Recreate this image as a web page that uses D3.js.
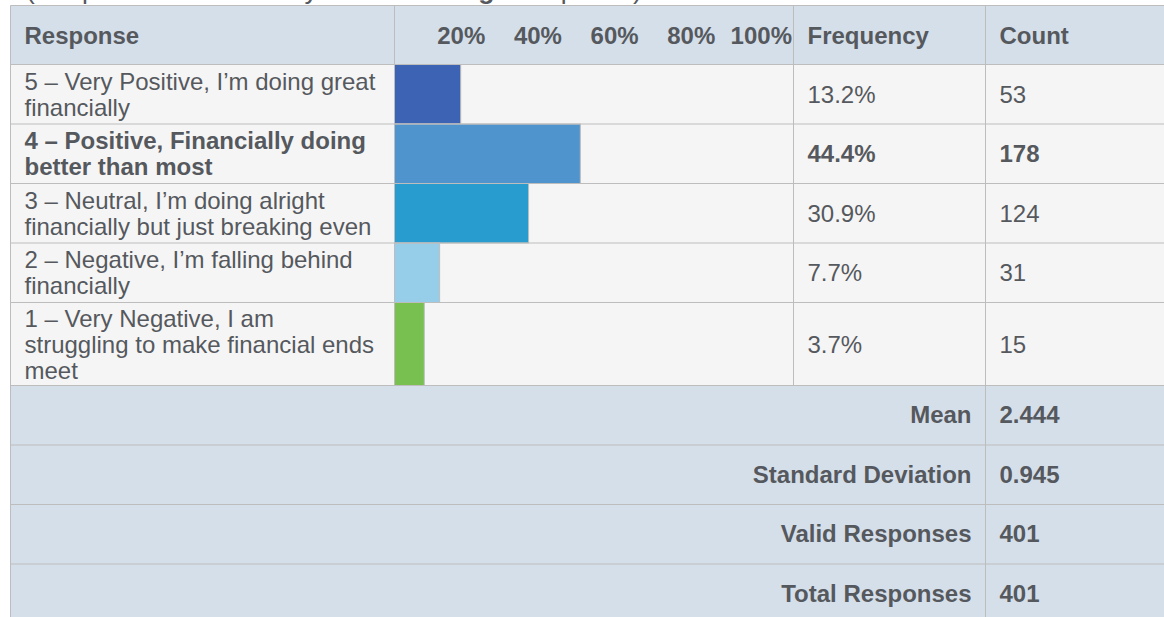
<!DOCTYPE html>
<html>
<head>
<meta charset="utf-8">
<script src="https://cdn.jsdelivr.net/npm/d3@7/dist/d3.min.js"></script>
<style>
  html, body { margin: 0; padding: 0; background: #ffffff; }
  svg { display: block; }
  text { font-family: "Liberation Sans", Arial, Helvetica, sans-serif; }
</style>
</head>
<body>
<svg id="chart" width="1164" height="617"></svg>
<script>
// Survey responses, one entry of wrapped label lines per answer
const responses = [
  ["5 – Very Positive, I’m doing great", "financially"],
  ["4 – Positive, Financially doing", "better than most"],
  ["3 – Neutral, I’m doing alright", "financially but just breaking even"],
  ["2 – Negative, I’m falling behind", "financially"],
  ["1 – Very Negative, I am", "struggling to make financial ends", "meet"]
];
const frequencies = [13.2, 44.4, 30.9, 7.7, 3.7];   // percent of valid responses
const counts = [53, 178, 124, 31, 15];
const modalRow = 1;                                    // most frequent answer, set in bold
const tickValues = [20, 40, 60, 80, 100];
const headers = ["Response", "Frequency", "Count"];
const summaryLabels = ["Mean", "Standard Deviation", "Valid Responses", "Total Responses"];
const summaryValues = ["2.444", "0.945", "401", "401"];
const captionParts = [
  { text: "(Respondents could only choose a ", bold: false },
  { text: "single", bold: true },
  { text: " response)", bold: false }
];

// Styling
const barColors = ["#3d63b4", "#5094ce", "#289cce", "#96cee9", "#78c050"];
const ink = "#55595e";
const headFill = "#d5dfea";
const rowFill = "#f5f5f5";
const rule = "#bdbdbd";
const fontSize = 24;
const lineGap = 26;

const W = 1164, H = 617;
const cols = [10.5, 394.5, 793.5, 985.5, W + 10];   // column edges
const pad = 14;
const tableTop = 5.5, headH = 59;
const rowH = lines => (lines.length > 2 ? 83 : 59.5);
const sumH = 59.5;

const svg = d3.select("#chart");

// Row geometry
let yCursor = tableTop + headH;
const rows = responses.map((lines, i) => {
  const r = { i, lines, y0: yCursor, h: rowH(lines) };
  yCursor += r.h;
  return r;
});
const dataBottom = yCursor;
const sums = summaryLabels.map((label, i) => {
  const r = { label, value: summaryValues[i], y0: yCursor, h: sumH };
  yCursor += sumH;
  return r;
});
const tableBottom = yCursor;

// Percentage scale for the bar column
const x = d3.scaleLinear().domain([0, 100]).range([cols[1] + 15.6, cols[2]]);

// Caption line, mostly hidden above the table
const cap = svg.append("text")
  .attr("x", 26).attr("y", -1.5)
  .attr("font-size", 26.5).attr("fill", ink);
captionParts.forEach(p => cap.append("tspan")
  .attr("font-weight", p.bold ? "bold" : "normal").text(p.text));

// Backgrounds
svg.append("rect")
  .attr("x", cols[0]).attr("y", tableTop)
  .attr("width", cols[4] - cols[0]).attr("height", headH)
  .attr("fill", headFill);
svg.selectAll("rect.row").data(rows).join("rect")
  .attr("class", "row")
  .attr("x", cols[0]).attr("y", d => d.y0)
  .attr("width", cols[4] - cols[0]).attr("height", d => d.h)
  .attr("fill", rowFill);
svg.selectAll("rect.sum").data(sums).join("rect")
  .attr("class", "sum")
  .attr("x", cols[0]).attr("y", d => d.y0)
  .attr("width", cols[4] - cols[0]).attr("height", d => d.h)
  .attr("fill", headFill);

// Bars
svg.selectAll("rect.bar").data(rows).join("rect")
  .attr("class", "bar")
  .attr("x", cols[1])
  .attr("y", d => d.y0)
  .attr("width", d => x(frequencies[d.i]) - cols[1])
  .attr("height", d => d.h)
  .attr("fill", d => barColors[d.i])
  .attr("stroke", rule).attr("stroke-width", 1);

// Grid rules
const hLines = [tableTop, tableTop + headH, ...rows.map(r => r.y0 + r.h), ...sums.map(r => r.y0 + r.h)];
svg.selectAll("line.h").data(hLines).join("line")
  .attr("class", "h")
  .attr("x1", cols[0]).attr("x2", cols[4])
  .attr("y1", d => d).attr("y2", d => d)
  .attr("stroke", rule).attr("stroke-width", 1);
const vLines = [
  { x: cols[0], y1: tableTop, y2: tableBottom },
  { x: cols[1], y1: tableTop, y2: dataBottom },
  { x: cols[2], y1: tableTop, y2: dataBottom },
  { x: cols[3], y1: tableTop, y2: tableBottom }
];
svg.selectAll("line.v").data(vLines).join("line")
  .attr("class", "v")
  .attr("x1", d => d.x).attr("x2", d => d.x)
  .attr("y1", d => d.y1).attr("y2", d => d.y2)
  .attr("stroke", rule).attr("stroke-width", 1);

// Header row
const headBase = tableTop + headH / 2 + 8.5;
[[headers[0], cols[0]], [headers[1], cols[2]], [headers[2], cols[3]]].forEach(([t, cx]) => {
  svg.append("text")
    .attr("x", cx + pad).attr("y", headBase)
    .attr("font-size", fontSize).attr("font-weight", "bold")
    .attr("fill", ink).text(t);
});

// Percentage ticks along the header of the bar column
const axis = d3.axisTop(x)
  .tickValues(tickValues)
  .tickFormat(d => d + "%")
  .tickSize(0).tickPadding(0);
const ag = svg.append("g")
  .attr("transform", `translate(0,${headBase})`)
  .call(axis);
ag.select(".domain").remove();
ag.selectAll("text")
  .attr("x", -2).attr("y", 0).attr("dy", 0)
  .attr("text-anchor", "end")
  .attr("font-family", null)
  .attr("font-size", fontSize).attr("font-weight", "bold")
  .attr("fill", ink);

// Response rows
rows.forEach(r => {
  const bold = r.i === modalRow ? "bold" : "normal";
  const mid = r.y0 + r.h / 2;
  const first = mid - (r.lines.length - 1) * lineGap / 2 + 8.5;
  const t = svg.append("text")
    .attr("font-size", fontSize).attr("font-weight", bold).attr("fill", ink);
  r.lines.forEach((ln, k) => t.append("tspan")
    .attr("x", cols[0] + pad).attr("y", first + k * lineGap).text(ln));
  svg.append("text")
    .attr("x", cols[2] + pad).attr("y", mid + 8.5)
    .attr("font-size", fontSize).attr("font-weight", bold).attr("fill", ink)
    .text(d3.format(".1f")(frequencies[r.i]) + "%");
  svg.append("text")
    .attr("x", cols[3] + pad).attr("y", mid + 8.5)
    .attr("font-size", fontSize).attr("font-weight", bold).attr("fill", ink)
    .text(counts[r.i]);
});

// Summary statistics
sums.forEach(s => {
  const base = s.y0 + s.h / 2 + 8;
  svg.append("text")
    .attr("x", cols[3] - pad).attr("y", base)
    .attr("text-anchor", "end")
    .attr("font-size", fontSize).attr("font-weight", "bold").attr("fill", ink)
    .text(s.label);
  svg.append("text")
    .attr("x", cols[3] + pad).attr("y", base)
    .attr("font-size", fontSize).attr("font-weight", "bold").attr("fill", ink)
    .text(s.value);
});
</script>
</body>
</html>
